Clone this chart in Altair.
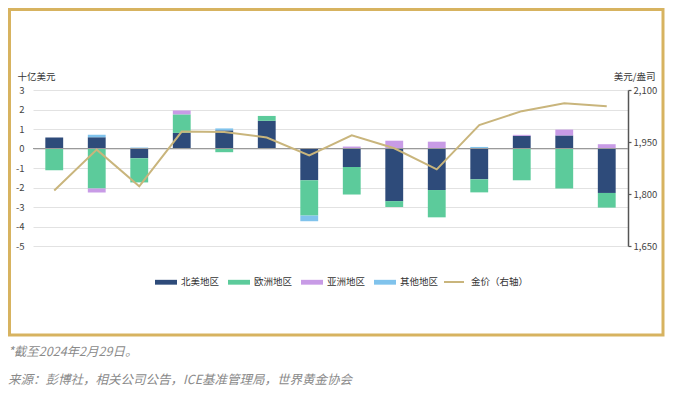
import altair as alt
import pandas as pd

months = ["01/2023", "02/2023", "03/2023", "04/2023", "05/2023", "06/2023", "07/2023",
          "08/2023", "09/2023", "10/2023", "11/2023", "12/2023", "01/2024", "02/2024"]
north_america = [0.57, 0.58, -0.50, 0.80, 0.93, 1.42, -1.63, -0.95, -2.70, -2.13, -1.58, 0.65, 0.67, -2.28]
europe = [-1.12, -2.05, -1.24, 0.95, -0.19, 0.25, -1.81, -1.41, -0.30, -1.40, -0.67, -1.63, -2.05, -0.75]
asia = [0.00, -0.20, 0.00, 0.20, 0.00, 0.00, 0.00, 0.10, 0.40, 0.35, 0.00, 0.05, 0.30, 0.22]
other = [0.00, 0.12, 0.05, 0.00, 0.10, 0.00, -0.29, 0.00, 0.00, 0.00, 0.08, 0.00, 0.00, 0.00]
gold_price = [1810, 1928, 1822, 1980, 1979, 1963, 1911, 1969, 1932, 1871, 1999, 2039, 2062, 2053]

regions = ["北美地区", "欧洲地区", "亚洲地区", "其他地区"]
region_colors = ["#2E4B7A", "#5CCB9B", "#C89BE6", "#80C3EC"]
gold_label = "金价（右轴）"
gold_color = "#C9B57C"
frame_color = "#D7B360"
font = "Noto Sans CJK SC"
footnote_1 = "*截至2024年2月29日。"
footnote_2 = "来源：彭博社，相关公司公告，ICE基准管理局，世界黄金协会"

rows = []
for series, name in zip([north_america, europe, asia, other], regions):
    for m, v in zip(months, series):
        rows.append({"month": m, "region": name, "value": v, "ord": regions.index(name)})
bars_df = pd.DataFrame(rows)
line_df = pd.DataFrame({"month": months, "price": gold_price, "series": gold_label})

xscale = alt.Scale(domain=months, paddingInner=0.58, paddingOuter=0.29)
x_enc = alt.X("month:N", scale=xscale, sort=months,
              axis=alt.Axis(title=None, domain=False, ticks=False, labelAngle=0,
                            labelPadding=6, labelFontSize=9.5, labelColor="#444", labelFont=font))
x_noaxis = alt.X("month:N", scale=xscale, sort=months, axis=None)

left_axis = alt.Axis(title="十亿美元", titleAngle=0, titleAlign="left", titleBaseline="bottom",
                     titleX=-16, titleY=-9, titleFontSize=9.5, titleFontWeight="normal",
                     titleColor="#333", titleFont=font,
                     values=list(range(-5, 4)), labelExpr="'' + datum.value",
                     domain=False, ticks=False, labelPadding=9, labelFontSize=9.5,
                     labelColor="#444", labelFont=font, grid=True, gridColor="#E2E2E2")

bars = alt.Chart(bars_df).mark_bar().encode(
    x=x_enc,
    y=alt.Y("value:Q", stack="zero", scale=alt.Scale(domain=[-5, 3], nice=False), axis=left_axis),
    color=alt.Color("region:N", scale=alt.Scale(domain=regions, range=region_colors),
                    legend=alt.Legend(title=None, orient="none", direction="horizontal",
                                      legendX=122, legendY=181,
                                      symbolType="M-1,-0.22H1V0.22H-1Z", symbolSize=484,
                                      symbolStrokeWidth=0, symbolOpacity=1,
                                      labelFontSize=9.5, labelColor="#333", labelFont=font,
                                      labelOffset=4, columnPadding=8)),
    order=alt.Order("ord:Q", sort="ascending"),
)

zero_rule = alt.Chart(pd.DataFrame({"z": [0]})).mark_rule(color="#9A9A9A", strokeWidth=1.2).encode(
    y=alt.Y("z:Q", scale=alt.Scale(domain=[-5, 3], nice=False), axis=None)
)

right_axis = alt.Axis(title="美元/盎司", orient="right", titleAngle=0, titleAlign="right",
                      titleBaseline="bottom", titleX=27, titleY=-9, titleFontSize=9.5,
                      titleFontWeight="normal", titleColor="#333", titleFont=font,
                      values=[1650, 1800, 1950, 2100], format=",.0f", grid=False,
                      domain=True, domainColor="#555", domainWidth=1.5,
                      ticks=True, tickColor="#555", tickSize=3, tickWidth=1.2,
                      labelPadding=2, labelFontSize=9.5, labelColor="#444", labelFont=font)

line = alt.Chart(line_df).mark_line(strokeWidth=2).encode(
    x=x_noaxis,
    y=alt.Y("price:Q", scale=alt.Scale(domain=[1650, 2100], nice=False, zero=False), axis=right_axis),
    stroke=alt.Stroke("series:N", scale=alt.Scale(domain=[gold_label], range=[gold_color]),
                      legend=alt.Legend(title=None, orient="none", direction="horizontal",
                                        legendX=410, legendY=181, symbolType="stroke",
                                        symbolSize=400, symbolStrokeWidth=2,
                                        labelFontSize=9.5, labelColor="#333", labelFont=font,
                                        labelOffset=6)),
)

frame = alt.Chart(pd.DataFrame({"a": [0]})).mark_rect(
    filled=False, stroke=frame_color, strokeWidth=3, clip=False
).encode(x=alt.value(-23.5), x2=alt.value(630), y=alt.value(-80.5), y2=alt.value(245))

note1 = alt.Chart(pd.DataFrame({"t": [footnote_1]})).mark_text(
    align="left", baseline="middle", font=font, fontSize=12.5, fontStyle="italic",
    color="#8A8A8A", clip=False
).encode(x=alt.value(-25), y=alt.value(262), text="t:N")

note2 = alt.Chart(pd.DataFrame({"t": [footnote_2]})).mark_text(
    align="left", baseline="middle", font=font, fontSize=12.5, fontStyle="italic",
    color="#8A8A8A", clip=False
).encode(x=alt.value(-25), y=alt.value(290), text="t:N")

chart = alt.layer(bars, zero_rule, line, frame, note1, note2).resolve_scale(
    y="independent", color="independent", stroke="independent"
).properties(
    width=595, height=156,
    autosize=alt.AutoSizeParams(type="none"),
    padding={"left": 25, "top": 82, "right": 39, "bottom": 142},
    background="white",
).configure_view(stroke=None)

chart.save("out.html", embed_options={"renderer": "svg", "actions": False})
